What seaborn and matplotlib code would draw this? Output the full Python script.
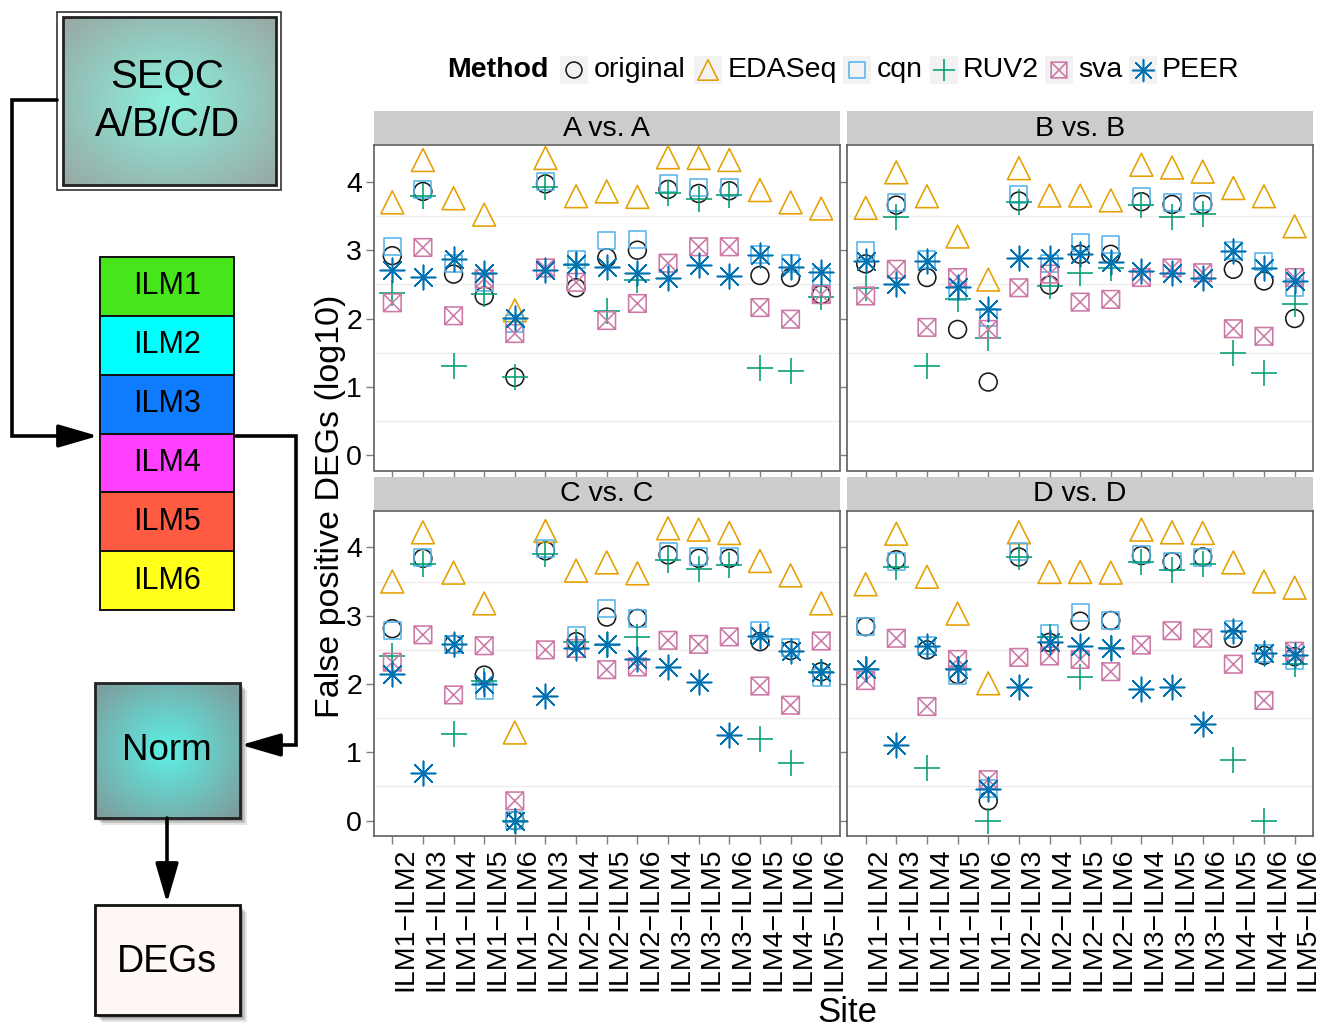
import numpy as np
import pandas as pd
import matplotlib
matplotlib.use("Agg")
import matplotlib.pyplot as plt
import seaborn as sns
from matplotlib.path import Path
from matplotlib.markers import MarkerStyle
from matplotlib.patches import Rectangle

sns.set_theme(style="white")
plt.rcParams["font.family"] = ["Liberation Sans", "DejaVu Sans"]
plt.rcParams["text.color"] = "black"
plt.rcParams["axes.labelcolor"] = "black"
plt.rcParams["xtick.color"] = "black"
plt.rcParams["ytick.color"] = "black"

# ---------------- data ----------------
sites = ["ILM1−ILM2", "ILM1−ILM3", "ILM1−ILM4", "ILM1−ILM5", "ILM1−ILM6",
         "ILM2−ILM3", "ILM2−ILM4", "ILM2−ILM5", "ILM2−ILM6", "ILM3−ILM4",
         "ILM3−ILM5", "ILM3−ILM6", "ILM4−ILM5", "ILM4−ILM6", "ILM5−ILM6"]
methods = ["original", "EDASeq", "cqn", "RUV2", "sva", "PEER"]
comparisons = ["A vs. A", "B vs. B", "C vs. C", "D vs. D"]
platforms = ["ILM1", "ILM2", "ILM3", "ILM4", "ILM5", "ILM6"]

a_original = [2.92, 3.86, 2.65, 2.33, 1.14, 3.97, 2.45, 2.89, 3.00, 3.89, 3.83, 3.87, 2.63, 2.60, 2.35]
a_edaseq   = [3.70, 4.32, 3.76, 3.52, 2.12, 4.35, 3.79, 3.86, 3.78, 4.36, 4.35, 4.32, 3.88, 3.70, 3.61]
a_cqn      = [3.06, 3.89, 2.80, 2.53, 1.93, 4.01, 2.87, 3.14, 3.15, 3.97, 3.92, 3.92, 2.93, 2.80, 2.62]
a_ruv2     = [2.38, 3.80, 1.31, 2.36, 1.14, 3.93, 2.79, 2.11, 2.56, 3.84, 3.75, 3.81, 1.27, 1.23, 2.31]
a_sva      = [2.23, 3.04, 2.04, 2.58, 1.78, 2.74, 2.53, 1.97, 2.22, 2.81, 3.05, 3.05, 2.16, 1.99, 2.35]
a_peer     = [2.71, 2.61, 2.87, 2.67, 2.01, 2.71, 2.80, 2.75, 2.67, 2.60, 2.79, 2.62, 2.93, 2.75, 2.68]

b_original = [2.80, 3.66, 2.60, 1.84, 1.07, 3.72, 2.49, 2.94, 2.94, 3.71, 3.67, 3.67, 2.72, 2.55, 2.00]
b_edaseq   = [3.62, 4.14, 3.79, 3.20, 2.57, 4.20, 3.80, 3.80, 3.73, 4.25, 4.21, 4.15, 3.91, 3.79, 3.35]
b_cqn      = [2.99, 3.70, 2.87, 2.40, 2.01, 3.82, 2.80, 3.11, 3.09, 3.78, 3.70, 3.71, 2.99, 2.84, 2.45]
b_ruv2     = [2.45, 3.49, 1.30, 2.28, 1.71, 3.71, 2.47, 2.67, 2.74, 3.66, 3.48, 3.53, 1.50, 1.20, 2.21]
b_sva      = [2.33, 2.72, 1.87, 2.60, 1.84, 2.45, 2.65, 2.24, 2.28, 2.60, 2.74, 2.67, 1.85, 1.74, 2.60]
b_peer     = [2.84, 2.51, 2.84, 2.46, 2.14, 2.89, 2.89, 2.95, 2.82, 2.70, 2.66, 2.59, 2.99, 2.74, 2.55]

c_original = [2.81, 3.84, 2.58, 2.13, 0.00, 3.95, 2.62, 2.98, 2.96, 3.89, 3.84, 3.84, 2.62, 2.49, 2.18]
c_edaseq   = [3.50, 4.22, 3.63, 3.18, 1.29, 4.24, 3.66, 3.78, 3.62, 4.28, 4.26, 4.21, 3.80, 3.59, 3.18]
c_cqn      = [2.79, 3.85, 2.58, 1.91, 0.00, 3.99, 2.71, 3.11, 2.96, 3.94, 3.86, 3.86, 2.79, 2.54, 2.10]
c_ruv2     = [2.41, 3.76, 1.27, 2.05, 0.00, 3.91, 2.62, 2.57, 2.69, 3.82, 3.68, 3.74, 1.20, 0.84, 2.18]
c_sva      = [2.32, 2.72, 1.84, 2.56, 0.29, 2.50, 2.52, 2.21, 2.25, 2.64, 2.58, 2.69, 1.97, 1.69, 2.63]
c_peer     = [2.14, 0.69, 2.58, 2.00, 0.00, 1.83, 2.53, 2.58, 2.36, 2.25, 2.03, 1.25, 2.71, 2.49, 2.18]

d_original = [2.84, 3.82, 2.50, 2.14, 0.29, 3.86, 2.61, 2.92, 2.93, 3.88, 3.79, 3.86, 2.67, 2.42, 2.40]
d_edaseq   = [3.46, 4.20, 3.57, 3.03, 2.01, 4.22, 3.64, 3.64, 3.63, 4.26, 4.22, 4.21, 3.78, 3.50, 3.41]
d_cqn      = [2.84, 3.80, 2.57, 2.13, 0.47, 3.94, 2.74, 3.05, 2.93, 3.89, 3.80, 3.85, 2.80, 2.45, 2.35]
d_ruv2     = [2.22, 3.72, 0.77, 2.22, 0.00, 3.86, 2.69, 2.10, 2.52, 3.78, 3.67, 3.76, 0.89, 0.00, 2.30]
d_sva      = [2.05, 2.67, 1.67, 2.36, 0.60, 2.39, 2.41, 2.36, 2.18, 2.57, 2.78, 2.67, 2.29, 1.76, 2.48]
d_peer     = [2.22, 1.11, 2.56, 2.22, 0.46, 1.96, 2.61, 2.56, 2.52, 1.92, 1.95, 1.41, 2.78, 2.45, 2.42]

panel_values = {
    "A vs. A": [a_original, a_edaseq, a_cqn, a_ruv2, a_sva, a_peer],
    "B vs. B": [b_original, b_edaseq, b_cqn, b_ruv2, b_sva, b_peer],
    "C vs. C": [c_original, c_edaseq, c_cqn, c_ruv2, c_sva, c_peer],
    "D vs. D": [d_original, d_edaseq, d_cqn, d_ruv2, d_sva, d_peer],
}

rows = []
for comp in comparisons:
    for m, vals in zip(methods, panel_values[comp]):
        for s, v in zip(sites, vals):
            rows.append((comp, m, s, v))
df = pd.DataFrame(rows, columns=["Comparison", "Method", "Site", "value"])
df["pos"] = pd.Categorical(df["Site"], categories=sites).codes

# ---------------- styles ----------------
W, H = 1332, 1030
fig = plt.figure(figsize=(W / 100, H / 100), dpi=100)

sva_path = Path(
    [(-1, -1), (1, -1), (1, 1), (-1, 1), (-1, -1), (-1, -1), (1, 1), (-1, 1), (1, -1)],
    [Path.MOVETO, Path.LINETO, Path.LINETO, Path.LINETO, Path.CLOSEPOLY,
     Path.MOVETO, Path.LINETO, Path.MOVETO, Path.LINETO])
markers = {"original": "o", "EDASeq": "^", "cqn": "s", "RUV2": "+",
           "sva": MarkerStyle(sva_path), "PEER": (8, 2, 0)}
sizes = {"original": 165, "EDASeq": 270, "cqn": 150, "RUV2": 340,
         "sva": 160, "PEER": 310}
colors = {"original": "#1a1a1a", "EDASeq": "#E69F00", "cqn": "#56B4E9",
          "RUV2": "#009E73", "sva": "#CC79A7", "PEER": "#0072B2"}
filled = {"original", "EDASeq", "cqn", "sva"}

pw, ph = 465.7, 325.5
strip_h = 33
panel_px = {"A vs. A": (373.9, 145.0), "B vs. B": (847.3, 145.0),
            "C vs. C": (373.9, 510.5), "D vs. D": (847.3, 510.5)}
FS = 20.5

for comp in comparisons:
    x0, y0 = panel_px[comp]
    ax = fig.add_axes([x0 / W, 1 - (y0 + ph) / H, pw / W, ph / H])
    sub_df = df[df["Comparison"] == comp]
    for m in methods:
        sub = sub_df[sub_df["Method"] == m]
        kw = dict(marker=markers[m], s=sizes[m], linewidth=1.15, legend=False,
                  ax=ax, zorder=3)
        if m in filled:
            kw.update(color=colors[m], facecolor="none", edgecolor=colors[m])
        else:
            kw.update(color=colors[m])
        sns.scatterplot(data=sub, x="pos", y="value", **kw)
    ax.set_xlim(-0.6, 14.6)
    ax.set_ylim(-0.225, 4.54)
    ax.set_xticks(range(len(sites)))
    ax.set_yticks([0, 1, 2, 3, 4])
    ax.set_yticks([0.5, 1.5, 2.5, 3.5], minor=True)
    ax.grid(False)
    ax.grid(True, which="minor", axis="y", color="#EDEDED", lw=1.0)
    ax.set_axisbelow(True)
    ax.set_xlabel("")
    ax.set_ylabel("")
    left_col = comp in ("A vs. A", "C vs. C")
    bottom_row = comp in ("C vs. C", "D vs. D")
    if left_col:
        ax.set_yticklabels(["0", "1", "2", "3", "4"])
    else:
        ax.set_yticklabels([])
    if bottom_row:
        ax.set_xticklabels(sites, rotation=90, ha="left", va="top")
    else:
        ax.set_xticklabels([])
    ax.tick_params(which="major", direction="out", length=5.5, width=1,
                   color="#7F7F7F", labelsize=FS, labelcolor="black", pad=3,
                   left=True, bottom=True)
    ax.tick_params(which="minor", length=0)
    for sp in ax.spines.values():
        sp.set_color("#5F5F5F")
        sp.set_linewidth(1.2)
    ax.add_patch(Rectangle((0, 1.003), 1, strip_h / ph, transform=ax.transAxes,
                           clip_on=False, fc="#CCCCCC", ec="none"))
    ax.text(0.5, 1.003 + strip_h / ph / 2 - 0.003, comp, transform=ax.transAxes,
            ha="center", va="center", fontsize=FS, color="black")

# ---------------- overlay (diagram, legend, axis titles) ----------------
ov = fig.add_axes([0, 0, 1, 1])
ov.patch.set_alpha(0)


def radial(cc, ce, n=120, power=1.0):
    yy, xx = np.mgrid[-1:1:n * 1j, -1:1:n * 1j]
    r = np.clip(np.sqrt(xx ** 2 + yy ** 2) / 1.35, 0, 1) ** power
    cc = np.array(matplotlib.colors.to_rgb(cc))
    ce = np.array(matplotlib.colors.to_rgb(ce))
    return cc[None, None, :] * (1 - r[..., None]) + ce[None, None, :] * r[..., None]


def grad_box(x0, y0, x1, y1, cc, ce, edge="#222222", lw=2.0, shadow=False):
    if shadow:
        for k, a in [(7, 0.10), (5, 0.15), (3, 0.2)]:
            ov.add_patch(Rectangle((x0 + k, y0 + k), x1 - x0, y1 - y0,
                                   fc="black", alpha=a, ec="none", zorder=1))
    ov.imshow(radial(cc, ce), extent=(x0, x1, y1, y0), aspect="auto",
              interpolation="bilinear", zorder=2)
    ov.add_patch(Rectangle((x0, y0), x1 - x0, y1 - y0, fill=False, ec=edge,
                           lw=lw, zorder=3))


# SEQC box
ov.add_patch(Rectangle((57, 12), 224, 178, fc="white", ec="#333333", lw=1.2, zorder=1))
grad_box(63, 17, 276, 185, "#8CF2DE", "#98AAA6", lw=2.0)
ov.text(167, 76, "SEQC", ha="center", va="center", fontsize=29, zorder=5)
ov.text(167, 125, "A/B/C/D", ha="center", va="center", fontsize=29, zorder=5)

# platform stack
stack_cols = ["#46E61A", "#00FFFF", "#0F7BFF", "#FF40FF", "#FF5A42", "#FFFF1A"]
sy0, sy1 = 257, 610
rh = (sy1 - sy0) / 6
for i, (p, c) in enumerate(zip(platforms, stack_cols)):
    ov.add_patch(Rectangle((100, sy0 + i * rh), 134, rh, fc=c, ec="#111111",
                           lw=1.4, zorder=3))
    ov.text(167, sy0 + (i + 0.5) * rh, p, ha="center", va="center",
            fontsize=22, zorder=5)

# Norm and DEGs boxes
grad_box(95, 683, 240, 818, "#5CF0E6", "#7E9C9C", lw=2.0, shadow=True)
ov.text(167, 751, "Norm", ha="center", va="center", fontsize=26.5, zorder=5)
for k, a in [(7, 0.10), (5, 0.15), (3, 0.2)]:
    ov.add_patch(Rectangle((95 + k, 905 + k), 145, 110, fc="black", alpha=a,
                           ec="none", zorder=1))
ov.add_patch(Rectangle((95, 905), 145, 110, fc="#FFF8F4", ec="#111111", lw=2.0, zorder=3))
ov.text(167, 962, "DEGs", ha="center", va="center", fontsize=27, zorder=5)

# connectors
arrow_kw = dict(arrowstyle="-|>,head_length=1.1,head_width=0.32", color="black",
                lw=2.6, mutation_scale=22, shrinkA=0, shrinkB=0)
ov.plot([57, 12, 12, 75], [100, 100, 436, 436], color="black", lw=2.6,
        solid_joinstyle="miter", zorder=4)
ov.annotate("", xy=(98, 436), xytext=(70, 436), arrowprops=arrow_kw, zorder=4)
ov.plot([236, 296, 296, 265], [436, 436, 745, 745], color="black", lw=2.6,
        solid_joinstyle="miter", zorder=4)
ov.annotate("", xy=(241, 745), xytext=(270, 745), arrowprops=arrow_kw, zorder=4)
ov.annotate("", xy=(167, 903), xytext=(167, 818), arrowprops=arrow_kw, zorder=4)

# legend
ov.text(447, 70, "Method", ha="left", va="center", fontsize=FS, fontweight="bold")
key_cx = [574, 708, 857, 944, 1059, 1143]
lab_x = [594, 728, 877, 963, 1078, 1162]
for m, cx, lx in zip(methods, key_cx, lab_x):
    ov.add_patch(Rectangle((cx - 14, 56), 28, 28, fc="#F2F2F2", ec="none", zorder=1))
    kw = dict(marker=markers[m], s=sizes[m] * 0.8, linewidths=1.15, zorder=3)
    if m in filled:
        ov.scatter([cx], [70], facecolor="none", edgecolor=colors[m], **kw)
    else:
        ov.scatter([cx], [70], color=colors[m], **kw)
    ov.text(lx, 70, m, ha="left", va="center", fontsize=FS)

# axis titles
ov.text(330, 506, "False positive DEGs (log10)", rotation=90, ha="center",
        va="center", fontsize=24.5, zorder=6)
ov.text(847, 1013, "Site", ha="center", va="center", fontsize=25)

ov.set_xlim(0, W)
ov.set_ylim(H, 0)
ov.axis("off")

fig.savefig("out.png", dpi=100)
